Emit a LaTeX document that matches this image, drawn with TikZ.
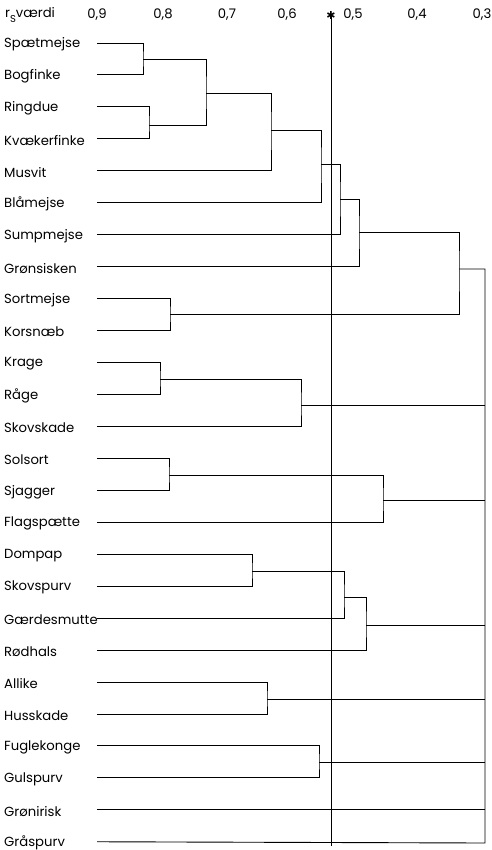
\documentclass[tikz,border=0pt]{standalone}
\usepackage{fontspec}
\setmainfont{Poppins}
\newfontfamily\symfont{DejaVu Sans}
\usetikzlibrary{calc,positioning}

\tikzset{
  bird/.style={anchor=west, inner sep=0pt, font=\fontsize{13.2}{15}\selectfont},
  scalemark/.style={inner sep=0pt, font=\fontsize{13.2}{15}\selectfont},
  tree/.style={line width=0.9pt},
}

\begin{document}
\begin{tikzpicture}[x=1pt,y=-1pt]
  \useasboundingbox (0,0) rectangle (491,850);

  % scale along the top
  \node [bird] (axis_label) at (5,15) {r\raisebox{-5pt}{\fontsize{10}{10}\selectfont S}værdi};
  \foreach \v/\xpos in {9/97,8/163,7/227,6/287,5/353,4/417,3/482}
  {
    \node [scalemark] (tick_\v) at (\xpos,15) {0,\v};
  }
  \node [inner sep=0pt, font=\symfont\fontsize{11}{11}\selectfont] (cut_star) at (331,15) {✱};
  \coordinate (cut_end) at (331,846);
  \draw [line width=0.8pt] (cut_star.center) -- (cut_end);

  \foreach \n/\name in {1/Spætmejse,2/Bogfinke,3/Ringdue,4/Kvækerfinke,5/Musvit,%
      6/Blåmejse,7/Sumpmejse,8/Grønsisken,9/Sortmejse,10/Korsnæb,11/Krage,%
      12/Råge,13/Skovskade,14/Solsort,15/Sjagger,16/Flagspætte,17/Dompap,%
      18/Skovspurv,19/Gærdesmutte,20/Rødhals,21/Allike,22/Husskade,%
      23/Fuglekonge,24/Gulspurv,25/Grønirisk,26/Gråspurv}
  {
    \node [bird] (bird_\n) at (4,{44.5+31.95*(\n-1)}) {\name};
    \coordinate (line_\n) at (97,{43+31.95*(\n-1)});
  }

  \foreach \j/\xpos/\ypos in {1/143/59,2/149/125,3/206/93,4/271/130,5/321/164,%
      6/340/199,7/359/232,8/170/314,9/459/269,10/160/379,11/301/405,%
      12/169/475,13/383/500,14/252/571,15/344/597,16/366/625,%
      17/267/699,18/319/762}
  {
    \coordinate (join_\j) at (\xpos,\ypos);
  }
  \coordinate (root_top) at (485,269);
  \coordinate (root_bottom) at (485,843);

  \draw [tree] (line_1) -| (join_1) |- (line_2);
  \draw [tree] (line_3) -| (join_2) |- (line_4);
  \draw [tree] (join_1) -| (join_3) |- (join_2);
  \draw [tree] (join_3) -| (join_4) |- (line_5);
  \draw [tree] (join_4) -| (join_5) |- (line_6);
  \draw [tree] (join_5) -| (join_6) |- (line_7);
  \draw [tree] (join_6) -| (join_7) |- (line_8);
  \draw [tree] (line_9) -| (join_8) |- (line_10);
  \draw [tree] (join_7) -| (join_9) |- (join_8);

  \draw [tree] (line_11) -| (join_10) |- (line_12);
  \draw [tree] (join_10) -| (join_11) |- (line_13);
  \draw [tree] (line_14) -| (join_12) |- (line_15);
  \draw [tree] (join_12) -| (join_13) |- (line_16);
  \draw [tree] (line_17) -| (join_14) |- (line_18);
  \draw [tree] (join_14) -| (join_15) |- (line_19);
  \draw [tree] (join_15) -| (join_16) |- (line_20);
  \draw [tree] (line_21) -| (join_17) |- (line_22);
  \draw [tree] (line_23) -| (join_18) |- (line_24);

  % everything meets at the far right
  \draw [tree] (join_9) -- (root_top) -- (root_bottom) -- (line_26);
  \foreach \j in {join_11,join_13,join_16,join_17,join_18,line_25}
  {
    \draw [tree] (\j) -- (\j -| root_top);
  }

\end{tikzpicture}
\end{document}
